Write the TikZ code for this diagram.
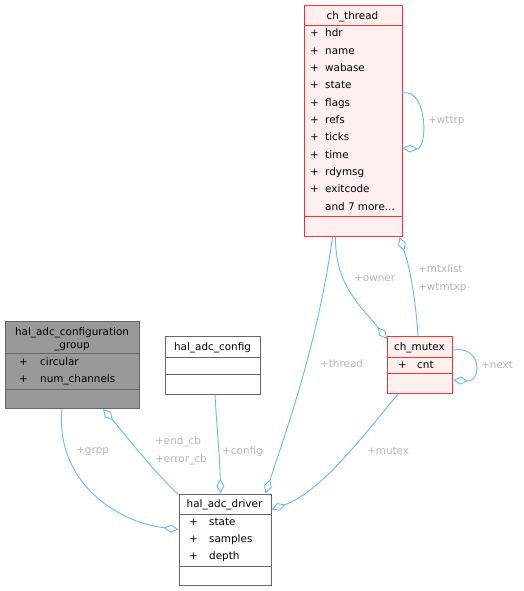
\documentclass[tikz,border=0pt]{standalone}
\usepackage{fontspec}
\setmainfont{DejaVu Sans}
\usetikzlibrary{arrows.meta}
\definecolor{edgec}{HTML}{63B8FF}
\definecolor{labc}{HTML}{B4B4B4}
\definecolor{grayfill}{HTML}{999999}
\definecolor{grayline}{HTML}{666666}
\definecolor{pinkfill}{HTML}{FFF0F0}
\definecolor{redline}{HTML}{FF3030}
\tikzset{
  every node/.style={font=\fontsize{10.4}{12}\selectfont, inner sep=0pt},
  boxg/.style={draw=grayline, fill=grayfill, line width=1pt, anchor=north west},
  boxw/.style={draw=grayline, fill=white, line width=1pt, anchor=north west},
  boxr/.style={draw=redline, fill=pinkfill, line width=1pt, anchor=north west},
  sepg/.style={draw=grayline, line width=1pt},
  sepr/.style={draw=redline, line width=1pt},
  mem/.style={anchor=base west},
  ttl/.style={anchor=base},
  lab/.style={text=labc, anchor=base west},
  rel/.style={draw=edgec, line width=0.9pt, -{Diamond[length=15pt,width=8pt,fill=white,line width=0.9pt]}},
}
\begin{document}
\begin{tikzpicture}[x=1pt,y=-1pt]
\useasboundingbox (0,0) rectangle (523,591);

% hal_adc_configuration_group
\node[boxg, minimum width=134pt, minimum height=87pt] (grp) at (5,321) {};
\node[ttl] (grpt1) at (72,335) {hal\_adc\_configuration};
\node[ttl] (grpt2) at (72,348) {\_group};
\draw[sepg] (5,353.5) -- (139,353.5);
\node[mem] (grpp1) at (19,365) {+};
\node[mem] (grpm1) at (40,365) {circular};
\node[mem] (grpp2) at (19,382) {+};
\node[mem] (grpm2) at (40,382) {num\_channels};
\draw[sepg] (5,389.5) -- (139,389.5);

% ch_thread
\node[boxr, minimum width=98pt, minimum height=231pt] (thr) at (303.5,5) {};
\node[ttl] (thrt) at (352.5,20) {ch\_thread};
\draw[sepr] (303.5,25.5) -- (401.5,25.5);
\foreach \n [count=\i from 0] in {hdr,name,wabase,state,flags,refs,ticks,time,rdymsg,exitcode}{
  \node[mem] (thrp\i) at (310,37+17.3*\i) {+};
  \node[mem] (thrm\i) at (325,37+17.3*\i) {\n};
}
\node[mem] (thrmore) at (325,210) {and 7 more...};
\draw[sepr] (303.5,216.5) -- (401.5,216.5);

% hal_adc_config
\node[boxw, minimum width=95pt, minimum height=58pt] (cfg) at (165,335.5) {};
\node[ttl] (cfgt) at (212.5,350.5) {hal\_adc\_config};
\draw[sepg] (165,357) -- (260,357);
\draw[sepg] (165,374.5) -- (260,374.5);

% hal_adc_driver
\node[boxw, minimum width=92pt, minimum height=91pt] (drv) at (178.5,493.5) {};
\node[ttl] (drvt) at (224.5,507.5) {hal\_adc\_driver};
\draw[sepg] (178.5,514) -- (270.5,514);
\node[mem] (drvp1) at (189,525) {+};
\node[mem] (drvm1) at (209,525) {state};
\node[mem] (drvp2) at (189,542) {+};
\node[mem] (drvm2) at (209,542) {samples};
\node[mem] (drvp3) at (189,559) {+};
\node[mem] (drvm3) at (209,559) {depth};
\draw[sepg] (178.5,566) -- (270.5,566);

% ch_mutex
\node[boxr, minimum width=65pt, minimum height=57pt] (mtx) at (387,336) {};
\node[ttl] (mtxt) at (419.5,350.5) {ch\_mutex};
\draw[sepr] (387,357) -- (452,357);
\node[mem] (mtxp) at (398,368) {+};
\node[mem] (mtxm) at (417,368) {cnt};
\draw[sepr] (387,373.5) -- (452,373.5);

% relations
\draw[rel] ([xshift=57pt]grp.south west) .. controls (55,480) and (115,522) .. ([yshift=-36pt]drv.north west);
\draw[rel] ([yshift=-1pt]drv.north west) .. controls (150,468) and (120,428) .. ([xshift=98pt]grp.south west);
\draw[rel] ([xshift=50pt]cfg.south west) .. controls (217,430) and (220,460) .. ([xshift=42pt]drv.north west);
\draw[rel] ([xshift=29pt]thr.south west) .. controls (318,340) and (290,420) .. ([xshift=-6pt]drv.north east);
\draw[rel] ([xshift=11pt]mtx.south west) .. controls (360,440) and (320,492) .. ([yshift=-16pt]drv.north east);
\draw[rel] ([xshift=32pt]thr.south west) .. controls (335,285) and (360,305) .. ([yshift=-3pt]mtx.north west);
\draw[rel] ([xshift=-2pt]mtx.north) .. controls (415,290) and (408,262) .. ([xshift=-3pt]thr.south east);
\draw[rel] ([yshift=28pt]thr.east) .. controls (428,88) and (428,150) .. ([yshift=-27pt]thr.east);
\draw[rel] ([yshift=15pt]mtx.east) .. controls (482,345) and (482,382) .. ([yshift=-15pt]mtx.east);

% labels
\node[lab] (lwttrp) at (428,124) {+wttrp};
\node[lab] (lnext) at (481,368) {+next};
\node[lab] (lowner) at (354,281) {+owner};
\node[lab] (lmtx1) at (418,272) {+mtxlist};
\node[lab] (lmtx2) at (418,290) {+wtmtxp};
\node[lab] (lthread) at (320,367) {+thread};
\node[lab] (lmutex) at (367,454) {+mutex};
\node[lab] (lconfig) at (222,454) {+config};
\node[lab] (lend) at (155,444) {+end\_cb};
\node[lab] (lerr) at (155,462) {+error\_cb};
\node[lab] (lgrpp) at (76,453) {+grpp};
\end{tikzpicture}
\end{document}
